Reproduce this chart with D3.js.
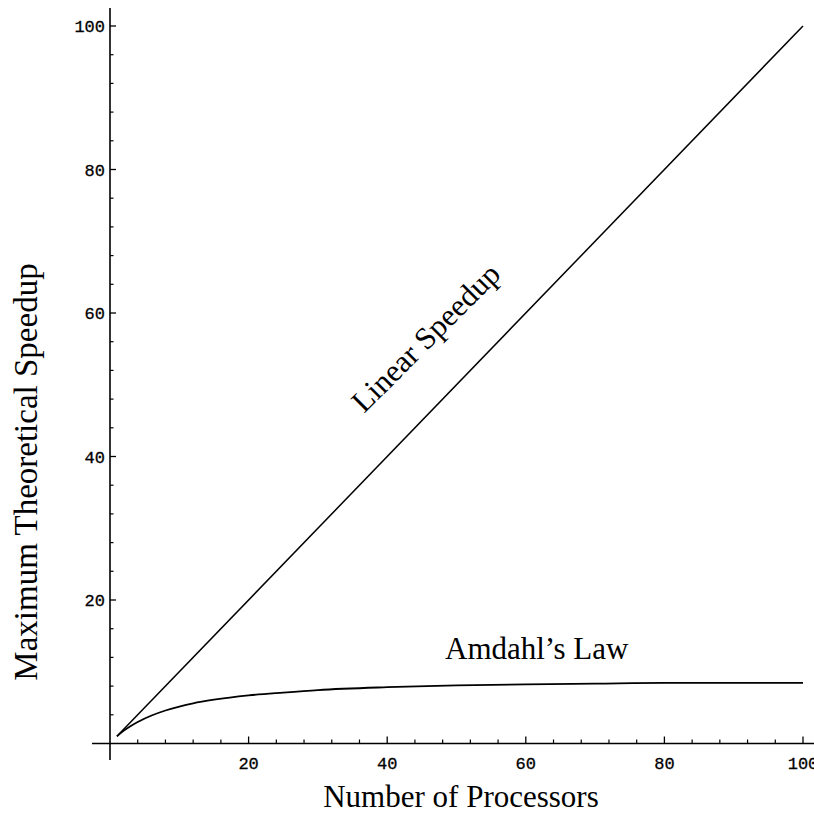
<!DOCTYPE html>
<html>
<head>
<meta charset="utf-8">
<script src="https://cdn.jsdelivr.net/npm/d3@7"></script>
<style>
  html, body { margin: 0; padding: 0; background: #fff; }
  svg { display: block; }
</style>
</head>
<body>
<svg id="chart" width="814" height="814"></svg>
<script>
// ---- data ----
const linearN = [1, 100];
const linearSpeedup = [1, 100];
const amdahlN = [1, 2, 3, 4, 6, 8, 10, 12, 15, 20, 25, 30, 40, 50, 60, 70, 80, 90, 100];
const amdahlSpeedup = [1, 1.8, 2.45, 3.0, 3.9, 4.6, 5.15, 5.6, 6.1, 6.7, 7.1, 7.45, 7.85, 8.1, 8.25, 8.35, 8.45, 8.45, 8.45];
const xMajorTicks = [20, 40, 60, 80, 100];
const yMajorTicks = [20, 40, 60, 80, 100];
const xTitle = "Number of Processors";
const yTitle = "Maximum Theoretical Speedup";
const linearLabel = "Linear Speedup";
const amdahlLabel = "Amdahl\u2019s Law";

const svg = d3.select("#chart");
const x = d3.scaleLinear().domain([0, 100]).range([110, 803]);
const y = d3.scaleLinear().domain([0, 100]).range([743.5, 26]);

const serif = "'Liberation Serif', 'Times New Roman', serif";
const mono = "'Liberation Mono', 'Courier New', monospace";

// minor ticks every 4
const xMinor = d3.range(4, 101, 4).filter(v => !xMajorTicks.includes(v));
const yMinor = d3.range(4, 101, 4).filter(v => !yMajorTicks.includes(v));

// axis lines
svg.append("line").attr("x1", x(-2.6)).attr("x2", 814).attr("y1", y(0)).attr("y2", y(0))
  .attr("stroke", "#000").attr("stroke-width", 1.6);
svg.append("line").attr("x1", x(0)).attr("x2", x(0)).attr("y1", y(-2.3)).attr("y2", y(102.5))
  .attr("stroke", "#000").attr("stroke-width", 1.6);

// x ticks (inward / upward)
const xAxisG = svg.append("g").attr("transform", `translate(0,${y(0)})`);
xAxisG.selectAll("line.maj").data(xMajorTicks).join("line")
  .attr("x1", d => x(d)).attr("x2", d => x(d)).attr("y1", 0).attr("y2", -7)
  .attr("stroke", "#000").attr("stroke-width", 1.3);
xAxisG.selectAll("line.min").data(xMinor).join("line")
  .attr("x1", d => x(d)).attr("x2", d => x(d)).attr("y1", 0).attr("y2", -4)
  .attr("stroke", "#000").attr("stroke-width", 1.2);
xAxisG.selectAll("text").data(xMajorTicks).join("text")
  .attr("x", d => x(d)).attr("y", 25)
  .attr("text-anchor", "middle")
  .attr("font-family", mono).attr("font-size", 17)
  .attr("stroke", "#000").attr("stroke-width", 0.3)
  .text(d => d);

// y ticks (inward / right)
const yAxisG = svg.append("g").attr("transform", `translate(${x(0)},0)`);
yAxisG.selectAll("line.maj").data(yMajorTicks).join("line")
  .attr("x1", 0).attr("x2", 6).attr("y1", d => y(d)).attr("y2", d => y(d))
  .attr("stroke", "#000").attr("stroke-width", 1.3);
yAxisG.selectAll("line.min").data(yMinor).join("line")
  .attr("x1", 0).attr("x2", 3.5).attr("y1", d => y(d)).attr("y2", d => y(d))
  .attr("stroke", "#000").attr("stroke-width", 1.2);
yAxisG.selectAll("text").data(yMajorTicks).join("text")
  .attr("x", -5).attr("y", d => y(d) + 6)
  .attr("text-anchor", "end")
  .attr("font-family", mono).attr("font-size", 17)
  .attr("stroke", "#000").attr("stroke-width", 0.3)
  .text(d => d);

// lines
const lineGen = d3.line().x(d => x(d[0])).y(d => y(d[1]));
svg.append("path")
  .datum(linearN.map((n, i) => [n, linearSpeedup[i]]))
  .attr("d", lineGen).attr("fill", "none").attr("stroke", "#000").attr("stroke-width", 1.5);
svg.append("path")
  .datum(amdahlN.map((n, i) => [n, amdahlSpeedup[i]]))
  .attr("d", lineGen.curve(d3.curveMonotoneX)).attr("fill", "none").attr("stroke", "#000").attr("stroke-width", 1.8);

// titles
svg.append("text").attr("x", 461).attr("y", 807)
  .attr("text-anchor", "middle").attr("font-family", serif).attr("font-size", 31)
  .text(xTitle);
svg.append("text").attr("transform", "translate(37,472) rotate(-90)")
  .attr("text-anchor", "middle").attr("font-family", serif).attr("font-size", 33)
  .text(yTitle);

// annotations
svg.append("text").attr("transform", "translate(428,340) rotate(-45)")
  .attr("text-anchor", "middle").attr("dominant-baseline", "middle")
  .attr("font-family", serif).attr("font-size", 31)
  .text(linearLabel);
svg.append("text").attr("x", 445).attr("y", 659)
  .attr("font-family", serif).attr("font-size", 31)
  .text(amdahlLabel);
</script>
</body>
</html>
